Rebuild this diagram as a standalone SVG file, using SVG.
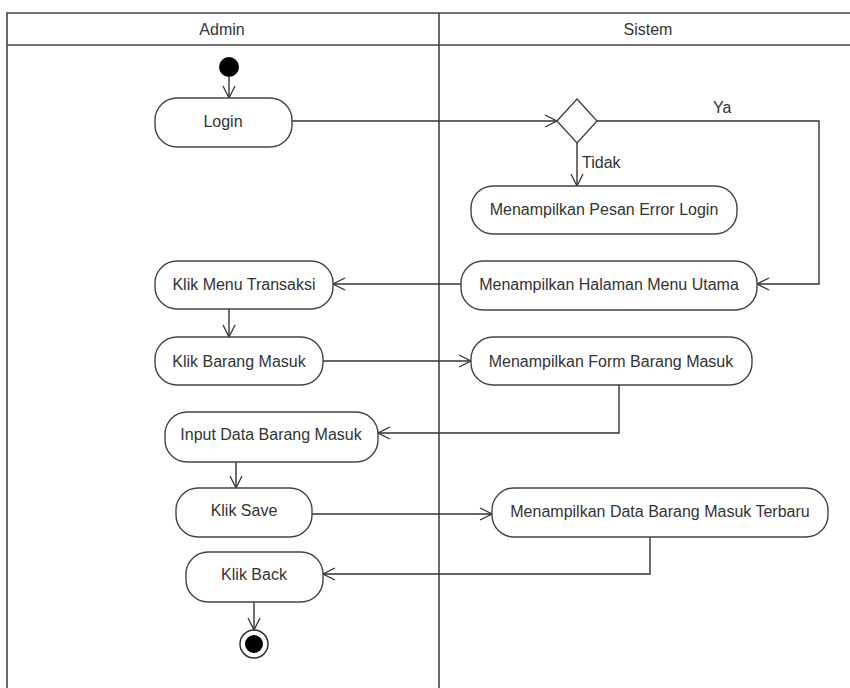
<svg xmlns="http://www.w3.org/2000/svg" width="850" height="688" viewBox="0 0 850 688">
  <defs>
    <marker id="open" viewBox="0 0 14 14" refX="13" refY="7" markerWidth="14" markerHeight="14" markerUnits="userSpaceOnUse" orient="auto">
      <path d="M1,1 L13,7 L1,13" fill="none" stroke="#333" stroke-width="1.3"/>
    </marker>
  </defs>
  <style>
    .lane { fill: none; stroke: #444; stroke-width: 1.6; }
    .act { fill: #fff; stroke: #444; stroke-width: 1.4; }
    .flow { fill: none; stroke: #333; stroke-width: 1.4; marker-end: url(#open); }
    text { font-family: "Liberation Sans", Arial, sans-serif; font-size: 16px; fill: #333; }
    .c { text-anchor: middle; dominant-baseline: central; }
  </style>
  <rect width="850" height="688" fill="#fff"/>

  <!-- swimlanes -->
  <g id="lanes">
    <path class="lane" d="M7,688 V13 H850 M7,45 H850 M439,13 V688"/>
    <text class="c" x="222" y="29">Admin</text>
    <text class="c" x="648" y="29">Sistem</text>
  </g>

  <!-- connectors -->
  <g id="connectors">
    <path class="flow" d="M229,77 V98"/>
    <path class="flow" d="M292,121 H557"/>
    <path class="flow" d="M597,121 H819 V284 H757"/>
    <path class="flow" d="M577,142 V186"/>
    <path class="flow" d="M461,284 H333"/>
    <path class="flow" d="M229,309 V337"/>
    <path class="flow" d="M323,361 H471"/>
    <path class="flow" d="M619,385 V433 H378"/>
    <path class="flow" d="M236,462 V488"/>
    <path class="flow" d="M312,514 H492"/>
    <path class="flow" d="M650,537 V574 H323"/>
    <path class="flow" d="M254,602 V630"/>
    <text x="713" y="113">Ya</text>
    <text x="582" y="168">Tidak</text>
  </g>

  <g id="start"><circle cx="229" cy="67" r="10" fill="#000"/></g>

  <g id="login">
    <rect class="act" x="155" y="98" width="137" height="49" rx="22"/>
    <text class="c" x="223" y="121">Login</text>
  </g>

  <g id="decision">
    <path class="act" d="M577,99 L597,121 L577,143 L557,121 Z"/>
  </g>

  <g id="error-login">
    <rect class="act" x="471" y="186" width="266" height="48" rx="22"/>
    <text class="c" x="604" y="209">Menampilkan Pesan Error Login</text>
  </g>

  <g id="menu-utama">
    <rect class="act" x="461" y="261" width="296" height="49" rx="22"/>
    <text class="c" x="609" y="284">Menampilkan Halaman Menu Utama</text>
  </g>

  <g id="klik-menu-transaksi">
    <rect class="act" x="155" y="261" width="178" height="48" rx="22"/>
    <text class="c" x="244" y="284">Klik Menu Transaksi</text>
  </g>

  <g id="klik-barang-masuk">
    <rect class="act" x="155" y="337" width="168" height="48" rx="22"/>
    <text class="c" x="239" y="361">Klik Barang Masuk</text>
  </g>

  <g id="form-barang-masuk">
    <rect class="act" x="471" y="337" width="281" height="48" rx="22"/>
    <text class="c" x="611" y="361">Menampilkan Form Barang Masuk</text>
  </g>

  <g id="input-data">
    <rect class="act" x="165" y="412" width="213" height="50" rx="22"/>
    <text class="c" x="271" y="434">Input Data Barang Masuk</text>
  </g>

  <g id="klik-save">
    <rect class="act" x="176" y="488" width="136" height="49" rx="22"/>
    <text class="c" x="244" y="510">Klik Save</text>
  </g>

  <g id="data-terbaru">
    <rect class="act" x="492" y="488" width="336" height="49" rx="22"/>
    <text class="c" x="660" y="511">Menampilkan Data Barang Masuk Terbaru</text>
  </g>

  <g id="klik-back">
    <rect class="act" x="186" y="552" width="137" height="50" rx="22"/>
    <text class="c" x="254" y="574">Klik Back</text>
  </g>

  <g id="end">
    <circle cx="254" cy="644" r="14" fill="#fff" stroke="#333" stroke-width="1.5"/>
    <circle cx="254" cy="644" r="9" fill="#000"/>
  </g>
</svg>
